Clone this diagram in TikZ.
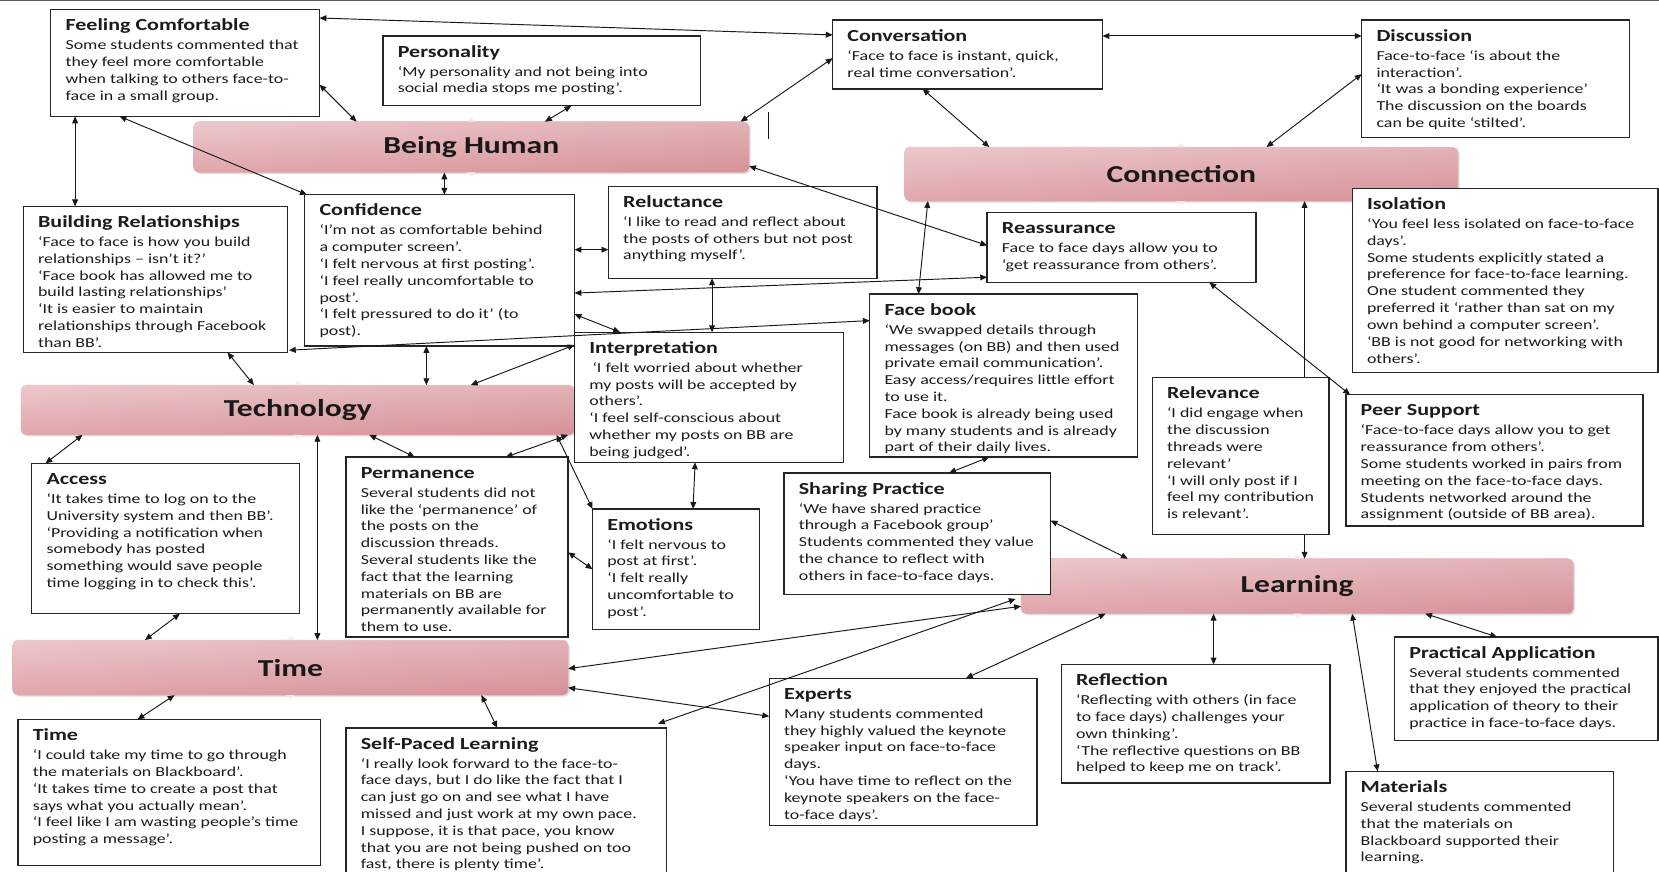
\documentclass[tikz,border=0pt]{standalone}
\usepackage{fontspec}
\setmainfont{Carlito}[FakeStretch=1.3]
\usetikzlibrary{arrows.meta,shadows}

\definecolor{barmid}{RGB}{249,234,235}
\definecolor{barend}{RGB}{229,176,180}
\definecolor{bardark}{RGB}{214,146,152}
\definecolor{inkgray}{RGB}{28,28,28}

\tikzset{
  cardbox/.style={draw=black!85, line width=1.3pt, fill=white, inner sep=0pt, outer sep=0pt},
  cardtext/.style={inner sep=0pt, outer sep=0pt, align=left, text=inkgray,
                   font=\fontsize{13}{15.9}\selectfont},
  themebar/.style={rounded corners=5pt, left color=barend, middle color=barmid, right color=bardark,
                   draw=barend, line width=0.5pt, inner sep=0pt, outer sep=0pt,
                   drop shadow={shadow xshift=1.5pt, shadow yshift=-1.5pt, opacity=0.25}},
  barsheen/.style={rounded corners=5pt, top color=white, bottom color=bardark, fill opacity=0.3},
  barlabel/.style={font=\fontsize{23}{26}\selectfont\bfseries, text=black!90, inner sep=0pt},
  link/.style={draw=black!90, line width=0.9pt,
               {Triangle[length=6.5pt,width=5.5pt]}-{Triangle[length=6.5pt,width=5.5pt]}},
  notch/.style={fill=barmid, draw=none},
}

% theme bar: name, x1, y1, x2, y2, label
\newcommand{\qbar}[6]{%
  \node[themebar, anchor=north west, minimum width={(#4-#2)*1pt}, minimum height={(#5-#3)*1pt}] (#1) at (#2,#3) {};
  \path[barsheen] (#1.north west) rectangle (#1.south east);
  \node[barlabel] (#1-lbl) at (#1.center) {#6};
  \fill[notch] ([xshift=-4pt]#1.north) -- ([yshift=4pt]#1.north) -- ([xshift=4pt]#1.north) -- cycle;
  \fill[notch] ([xshift=-4pt]#1.south) -- ([yshift=-4pt]#1.south) -- ([xshift=4pt]#1.south) -- cycle;
}

% quotation card: name, x1, y1, x2, y2, title, body
\newcommand{\qcard}[7]{%
  \node[cardbox, anchor=north west, minimum width={(#4-#2)*1pt}, minimum height={(#5-#3)*1pt}] (#1) at (#2,#3) {};
  \node[cardtext, anchor=north west] (#1-txt) at ([shift={(14,7)}]#1.north west)
    {{\fontsize{16}{18}\selectfont\bfseries\rule{0pt}{13pt}#6}\\[2pt]#7};
}

\begin{document}
\begin{tikzpicture}[x=1pt,y=-1pt]
\useasboundingbox (0,0) rectangle (1568,824);
\fill[white] (0,0) rectangle (1568,824);
\clip (0,0) rectangle (1568,824);
\draw[black!65, line width=2pt] (0,0) -- (1568,0);

% ---- theme bars ----
\qbar{bh}{183}{115}{708}{163}{Being Human}
\qbar{conn}{855}{139}{1378}{190}{Connection}
\qbar{tech}{20}{364}{543}{411}{Technology}
\qbar{learn}{965}{528}{1487}{580}{Learning}
\qbar{time}{12}{605}{537}{657}{Time}

% link running behind the Relevance card
\draw[link] ([shift={(378,51)}]conn.north west) -- ([shift={(268,0)}]learn.north west);

% ---- cards ----
\qcard{fc}{48}{9}{302}{110}{Feeling Comfortable}{Some students commented that\\they feel more comfortable\\when talking to others face-to-\\face in a small group.}
\qcard{pers}{362}{34}{662}{100}{Personality}{‘My personality and not being into\\social media stops me posting’.}
\qcard{conv}{787}{19}{1042}{84}{Conversation}{‘Face to face is instant, quick,\\real time conversation’.}
\qcard{disc}{1287}{19}{1540}{130}{Discussion}{Face-to-face ‘is about the\\interaction’.\\‘It was a bonding experience’\\The discussion on the boards\\can be quite ‘stilted’.}
\qcard{br}{22}{195}{272}{333}{Building Relationships}{‘Face to face is how you build\\relationships – isn’t it?’\\‘Face book has allowed me to\\build lasting relationships’\\‘It is easier to maintain\\relationships through Facebook\\than BB’.}
\qcard{conf}{288}{184}{543}{327}{Confidence}{‘I’m not as comfortable behind\\a computer screen’.\\‘I felt nervous at first posting’.\\‘I feel really uncomfortable to\\post’.\\‘I felt pressured to do it’ (to\\post).}
\qcard{rel}{575}{176}{829}{263}{Reluctance}{‘I like to read and reflect about\\the posts of others but not post\\anything myself’.}
\qcard{reas}{933}{201}{1187}{267}{Reassurance}{Face to face days allow you to\\‘get reassurance from others’.}
\qcard{iso}{1278}{178}{1567}{352}{Isolation}{‘You feel less isolated on face-to-face\\days’.\\Some students explicitly stated a\\preference for face-to-face learning.\\One student commented they\\preferred it ‘rather than sat on my\\own behind a computer screen’.\\‘BB is not good for networking with\\others’.}
\qcard{fb}{822}{278}{1075}{432}{Face book}{‘We swapped details through\\messages (on BB) and then used\\private email communication’.\\Easy access/requires little effort\\to use it.\\Face book is already being used\\by many students and is already\\part of their daily lives.}
\qcard{interp}{543}{314}{797}{437}{Interpretation}{\hspace{3pt}‘I felt worried about whether\\my posts will be accepted by\\others’.\\‘I feel self-conscious about\\whether my posts on BB are\\being judged’.}
\qcard{relv}{1089}{357}{1256}{505}{Relevance}{‘I did engage when\\the discussion\\threads were\\relevant’\\‘I will only post if I\\feel my contribution\\is relevant’.}
\qcard{peer}{1272}{373}{1553}{497}{Peer Support}{‘Face-to-face days allow you to get\\reassurance from others’.\\Some students worked in pairs from\\meeting on the face-to-face days.\\Students networked around the\\assignment (outside of BB area).}
\qcard{acc}{30}{438}{283}{580}{Access}{‘It takes time to log on to the\\University system and then BB’.\\‘Providing a notification when\\somebody has posted\\something would save people\\time logging in to check this’.}
\qcard{perm}{327}{432}{537}{602}{Permanence}{Several students did not\\like the ‘permanence’ of\\the posts on the\\discussion threads.\\Several students like the\\fact that the learning\\materials on BB are\\permanently available for\\them to use.}
\qcard{emo}{560}{481}{718}{595}{Emotions}{‘I felt nervous to\\post at first’.\\‘I felt really\\uncomfortable to\\post’.}
\qcard{share}{741}{447}{993}{562}{Sharing Practice}{‘We have shared practice\\through a Facebook group’\\Students commented they value\\the chance to reflect with\\others in face-to-face days.}
\qcard{prac}{1318}{602}{1567}{700}{Practical Application}{Several students commented\\that they enjoyed the practical\\application of theory to their\\practice in face-to-face days.}
\qcard{refl}{1003}{628}{1257}{740}{Reflection}{‘Reflecting with others (in face\\to face days) challenges your\\own thinking’.\\‘The reflective questions on BB\\helped to keep me on track’.}
\qcard{exp}{727}{641}{980}{780}{Experts}{Many students commented\\they highly valued the keynote\\speaker input on face-to-face\\days.\\‘You have time to reflect on the\\keynote speakers on the face-\\to-face days’.}
\qcard{timeb}{17}{680}{303}{818}{Time}{‘I could take my time to go through\\the materials on Blackboard’.\\‘It takes time to create a post that\\says what you actually mean’.\\‘I feel like I am wasting people’s time\\posting a message’.}
\qcard{self}{327}{688}{630}{840}{Self-Paced Learning}{‘I really look forward to the face-to-\\face days, but I do like the fact that I\\can just go on and see what I have\\missed and just work at my own pace.\\I suppose, it is that pace, you know\\that you are not being pushed on too\\fast, there is plenty time’.}
\qcard{mat}{1272}{729}{1525}{840}{Materials}{Several students commented\\that the materials on\\Blackboard supported their\\learning.}

% stray mark beside the Being Human bar
\draw[black!90, line width=1pt] (726,106) -- (726,131);

% ---- links ----
\draw[link] ([shift={(254,8)}]fc.north west) -- ([shift={(0,14)}]conv.north west);
\draw[link] ([shift={(254,71)}]fc.north west) -- ([shift={(154,0)}]bh.north west);
\draw[link] ([shift={(23,101)}]fc.north west) -- ([shift={(49,0)}]br.north west);
\draw[link] ([shift={(65,101)}]fc.north west) -- ([shift={(2,0)}]conf.north west);
\draw[link] ([shift={(178,66)}]pers.north west) -- ([shift={(332,0)}]bh.north west);
\draw[link] ([shift={(517,0)}]bh.north west) -- ([shift={(0,36)}]conv.north west);
\draw[link] ([shift={(237,48)}]bh.north west) -- ([shift={(132,0)}]conf.north west);
\draw[link] ([shift={(525,42)}]bh.north west) -- ([shift={(0,31)}]reas.north west);
\draw[link] ([shift={(85,65)}]conv.north west) -- ([shift={(80,0)}]conn.north west);
\draw[link] ([shift={(255,15)}]conv.north west) -- ([shift={(0,15)}]disc.north west);
\draw[link] ([shift={(0,51)}]disc.north west) -- ([shift={(342,0)}]conn.north west);
\draw[link] ([shift={(255,52)}]conf.north west) -- ([shift={(0,60)}]rel.north west);
\draw[link] ([shift={(255,93)}]conf.north west) -- ([shift={(0,61)}]reas.north west);
\draw[link] ([shift={(255,113)}]conf.north west) -- ([shift={(43,0)}]interp.north west);
\draw[link] ([shift={(251,136)}]br.north west) -- ([shift={(0,25)}]fb.north west);
\draw[link] ([shift={(98,87)}]rel.north west) -- ([shift={(130,0)}]interp.north west);
\draw[link] ([shift={(22,51)}]conn.north west) -- ([shift={(46,0)}]fb.north west);
\draw[link] ([shift={(210,66)}]reas.north west) -- ([shift={(4,0)}]peer.north west);
\draw[link] ([shift={(193,138)}]br.north west) -- ([shift={(220,0)}]tech.north west);
\draw[link] ([shift={(115,143)}]conf.north west) -- ([shift={(383,0)}]tech.north west);
\draw[link] ([shift={(425,0)}]tech.north west) -- ([shift={(0,12)}]interp.north west);
\draw[link] ([shift={(58,47)}]tech.north west) -- ([shift={(13,0)}]acc.north west);
\draw[link] ([shift={(280,47)}]tech.north west) -- ([shift={(288,0)}]time.north west);
\draw[link] ([shift={(329,47)}]tech.north west) -- ([shift={(65,0)}]perm.north west);
\draw[link] ([shift={(151,0)}]perm.north west) -- ([shift={(517,47)}]tech.north west);
\draw[link] ([shift={(0,0)}]emo.north west) -- ([shift={(506,47)}]tech.north west);
\draw[link] ([shift={(210,90)}]perm.north west) -- ([shift={(0,57)}]emo.north west);
\draw[link] ([shift={(114,123)}]interp.north west) -- ([shift={(95,0)}]emo.north west);
\draw[link] ([shift={(113,154)}]fb.north west) -- ([shift={(156,0)}]share.north west);
\draw[link] ([shift={(252,45)}]share.north west) -- ([shift={(101,0)}]learn.north west);
\draw[link] ([shift={(525,27)}]time.north west) -- ([shift={(0,45)}]learn.north west);
\draw[link] ([shift={(295,-4)}]self.north west) -- ([shift={(-5,38)}]learn.north west);
\draw[link] ([shift={(525,45)}]time.north west) -- ([shift={(0,36)}]exp.north west);
\draw[link] ([shift={(80,52)}]learn.north west) -- ([shift={(186,0)}]exp.north west);
\draw[link] ([shift={(182,52)}]learn.north west) -- ([shift={(144,0)}]refl.north west);
\draw[link] ([shift={(313,52)}]learn.north west) -- ([shift={(30,0)}]mat.north west);
\draw[link] ([shift={(382,52)}]learn.north west) -- ([shift={(97,0)}]prac.north west);
\draw[link] ([shift={(153,52)}]time.north west) -- ([shift={(113,0)}]timeb.north west);
\draw[link] ([shift={(443,52)}]time.north west) -- ([shift={(143,0)}]self.north west);
\draw[link] ([shift={(140,142)}]acc.north west) -- ([shift={(125,0)}]time.north west);
\end{tikzpicture}
\end{document}
